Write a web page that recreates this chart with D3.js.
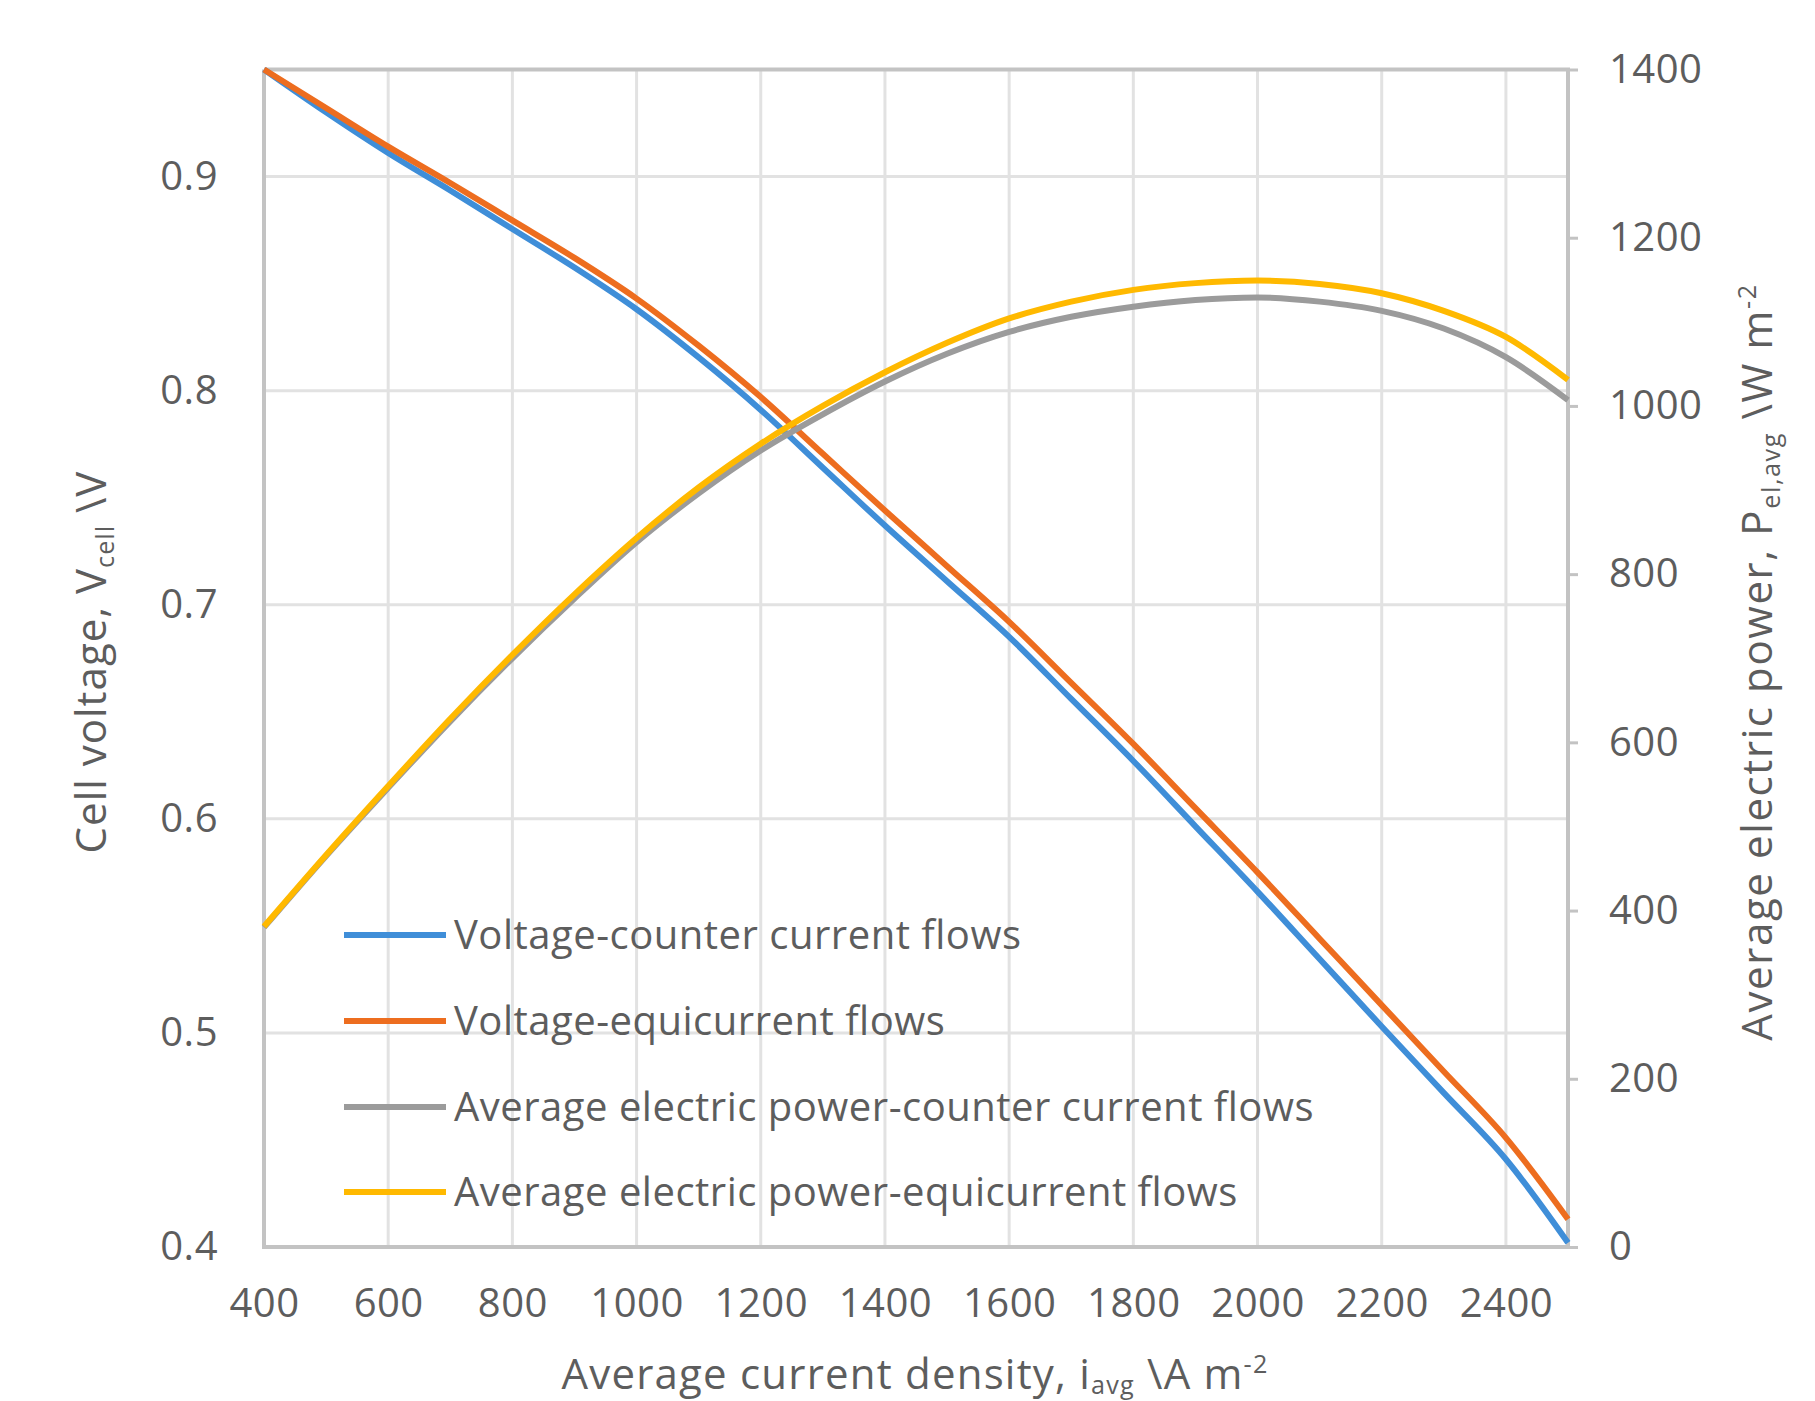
<!DOCTYPE html>
<html>
<head>
<meta charset="utf-8">
<script src="https://cdn.jsdelivr.net/npm/d3@7"></script>
<style>
  html, body { margin: 0; padding: 0; background: #ffffff; }
  svg { display: block; }
  text { font-family: "Open Sans", "Noto Sans", sans-serif; fill: #5d5d5d; }
</style>
</head>
<body>
<svg id="chart" width="1815" height="1401"></svg>
<script>
// ---- data ----
const currentDensity = [400, 500, 600, 700, 800, 900, 1000, 1100, 1200, 1300, 1400, 1500, 1600, 1700, 1800, 1900, 2000, 2100, 2200, 2300, 2400, 2500];
const voltageCounter = [0.950, 0.930, 0.911, 0.8935, 0.8755, 0.8575, 0.838, 0.8155, 0.791, 0.764, 0.737, 0.711, 0.685, 0.656, 0.627, 0.5965, 0.566, 0.5345, 0.503, 0.472, 0.441, 0.402];
const voltageEqui    = [0.950, 0.932, 0.914, 0.897, 0.8795, 0.862, 0.843, 0.821, 0.797, 0.7705, 0.744, 0.718, 0.692, 0.6635, 0.635, 0.605, 0.575, 0.544, 0.513, 0.482, 0.451, 0.413];
const powerCounter   = [380, 465, 546, 625, 700, 771, 838, 896, 947, 990, 1029, 1062, 1088, 1106, 1118, 1126, 1129, 1124, 1113, 1092, 1058, 1007];
const powerEqui      = [381, 466, 548, 628, 704, 776, 843, 903, 955, 1000, 1040, 1075, 1104, 1124, 1138, 1146, 1149, 1145, 1134, 1113, 1082, 1031];

const xTicks = [400, 600, 800, 1000, 1200, 1400, 1600, 1800, 2000, 2200, 2400];
const yLeftTicks = [0.4, 0.5, 0.6, 0.7, 0.8, 0.9];
const yRightTicks = [0, 200, 400, 600, 800, 1000, 1200, 1400];

const seriesNames = [
  "Voltage-counter current flows",
  "Voltage-equicurrent flows",
  "Average electric power-counter current flows",
  "Average electric power-equicurrent flows"
];
const seriesColors = ["#3f8ed8", "#ed6d1f", "#9b9b9b", "#ffb900"];

// ---- layout ----
const L = 264, R = 1568, T = 69.5, B = 1247;
const svg = d3.select("#chart");

const x = d3.scaleLinear().domain([400, 2500]).range([L, R]);
const yL = d3.scaleLinear().domain([0.4, 0.95]).range([B, T]);
const yR = d3.scaleLinear().domain([0, 1400]).range([B, T]);

// gridlines
const grid = svg.append("g");
grid.selectAll("line.v").data(xTicks.filter(d => d > 400)).enter().append("line")
  .attr("x1", d => x(d)).attr("x2", d => x(d)).attr("y1", T).attr("y2", B)
  .attr("stroke", "#e2e2e2").attr("stroke-width", 3);
grid.selectAll("line.h").data(yLeftTicks.filter(d => d > 0.4)).enter().append("line")
  .attr("x1", L).attr("x2", R).attr("y1", d => yL(d)).attr("y2", d => yL(d))
  .attr("stroke", "#e2e2e2").attr("stroke-width", 3);

// frame lines
const frame = svg.append("g").attr("stroke", "#c3c3c3").attr("stroke-width", 4);
frame.append("line").attr("x1", L).attr("x2", R + 2).attr("y1", T).attr("y2", T);
frame.append("line").attr("x1", L).attr("x2", L).attr("y1", T).attr("y2", B);
frame.append("line").attr("x1", R).attr("x2", R).attr("y1", T).attr("y2", B);
frame.append("line").attr("x1", L - 2).attr("x2", R + 2).attr("y1", B).attr("y2", B);

// axes
const fs = 40;
const ls = "0.5px";
const xAxis = svg.append("g").attr("transform", `translate(0,${B})`)
  .call(d3.axisBottom(x).tickValues(xTicks).tickSize(0).tickPadding(42).tickFormat(d3.format("d")));
const yAxisL = svg.append("g").attr("transform", `translate(${L},0)`)
  .call(d3.axisLeft(yL).tickValues(yLeftTicks).tickSize(0).tickPadding(46).tickFormat(d3.format(".1f")));
const yAxisR = svg.append("g").attr("transform", `translate(${R},0)`)
  .call(d3.axisRight(yR).tickValues(yRightTicks).tickSize(10).tickPadding(31).tickFormat(d3.format("d")));
[xAxis, yAxisL, yAxisR].forEach(g => {
  g.select(".domain").remove();
  g.selectAll("text").style("font-size", fs + "px").style("letter-spacing", ls)
    .attr("fill", "#5d5d5d").style("font-family", "'Open Sans', sans-serif");
  g.selectAll(".tick line").attr("stroke", "#c3c3c3").attr("stroke-width", 3);
});

// lines
const seriesData = [voltageCounter, voltageEqui, powerCounter, powerEqui];
const seriesScale = [yL, yL, yR, yR];
seriesData.forEach((vals, k) => {
  const yy = seriesScale[k];
  const line = d3.line().x((d, i) => x(currentDensity[i])).y(d => yy(d)).curve(d3.curveMonotoneX);
  svg.append("path").datum(vals).attr("d", line)
    .attr("fill", "none").attr("stroke", seriesColors[k]).attr("stroke-width", 6)
    .attr("stroke-linejoin", "round");
});

// legend
const legY = [935, 1021, 1107, 1192];
const leg = svg.append("g");
seriesNames.forEach((name, k) => {
  leg.append("line").attr("x1", 344).attr("x2", 446).attr("y1", legY[k]).attr("y2", legY[k])
    .attr("stroke", seriesColors[k]).attr("stroke-width", 6);
  leg.append("text").attr("x", 454).attr("y", legY[k]).attr("dy", "0.35em")
    .style("font-size", fs + "px").style("letter-spacing", ls).text(name);
});

// axis titles
const tfs = 42;
const sfs = tfs * 0.6;
const tls = "1.2px";
const xt = svg.append("text").attr("x", 915).attr("y", 1389).attr("text-anchor", "middle")
  .style("font-size", tfs + "px").style("letter-spacing", tls);
xt.append("tspan").text("Average current density, i");
xt.append("tspan").text("avg").attr("dy", 5).style("font-size", sfs + "px");
xt.append("tspan").text(" \\A m").attr("dy", -5);
xt.append("tspan").text("-2").attr("dy", -16).style("font-size", sfs + "px");

const ylt = svg.append("text").attr("transform", "translate(91,662) rotate(-90)").attr("text-anchor", "middle")
  .attr("dy", "0.35em").style("font-size", tfs + "px").style("letter-spacing", "1px");
ylt.append("tspan").text("Cell voltage, V");
ylt.append("tspan").text("cell").attr("dy", 8).style("font-size", sfs + "px");
ylt.append("tspan").text(" \\V").attr("dy", -8);

const yrt = svg.append("text").attr("transform", "translate(1757,662) rotate(-90)").attr("text-anchor", "middle")
  .attr("dy", "0.35em").style("font-size", tfs + "px").style("letter-spacing", "1.6px");
yrt.append("tspan").text("Average electric power, P");
yrt.append("tspan").text("el,avg").attr("dy", 8).style("font-size", sfs + "px");
yrt.append("tspan").text(" \\W m").attr("dy", -8);
yrt.append("tspan").text("-2").attr("dy", -16).style("font-size", sfs + "px");
</script>
</body>
</html>
